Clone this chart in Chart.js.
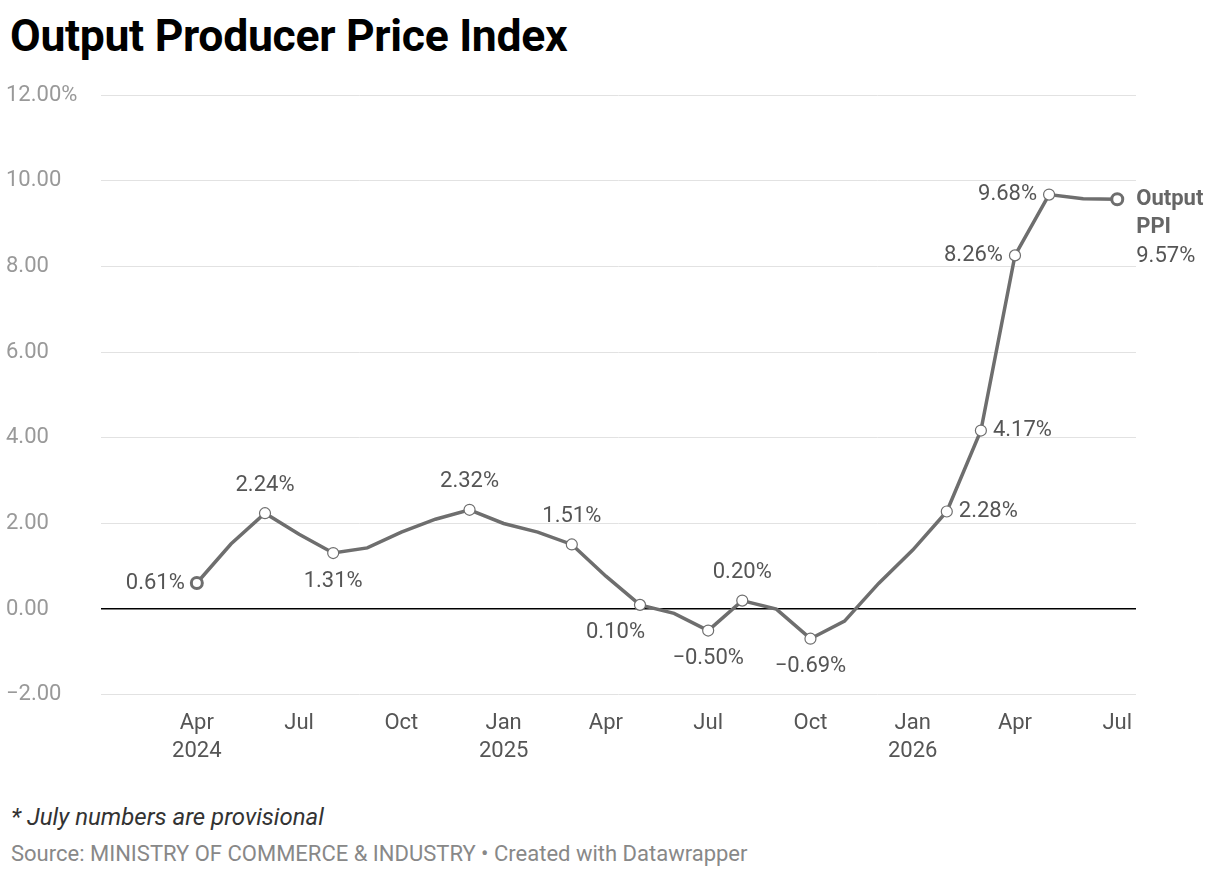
<!DOCTYPE html>
<html>
<head>
<meta charset="utf-8">
<script src="https://cdn.jsdelivr.net/npm/chart.js@4"></script>
<style>
  body { margin: 0; background: #fff; font-family: Roboto, sans-serif; }
  h1 { position: absolute; left: 10px; top: 10px; margin: 0; font-size: 44.5px; font-weight: 700; color: #000; letter-spacing: -0.3px; }
  #wrap { position: absolute; left: 0; top: 70px; width: 1220px; height: 702px; }
  .note { position: absolute; left: 11px; font-size: 24px; color: #333; }
  .src { position: absolute; left: 11px; font-size: 22px; color: #888; }
</style>
</head>
<body>
<h1>Output Producer Price Index</h1>
<div id="wrap"><canvas id="c"></canvas></div>
<div class="note" style="top:803px;font-style:italic">* July numbers are provisional</div>
<div class="src" style="top:841px">Source: MINISTRY OF COMMERCE &amp; INDUSTRY • Created with Datawrapper</div>
<script>
// months from Apr 2024 to Jul 2026
const months = ['Apr 2024','May','Jun','Jul','Aug','Sep','Oct','Nov','Dec','Jan 2025','Feb','Mar',
  'Apr','May','Jun','Jul','Aug','Sep','Oct','Nov','Dec','Jan 2026','Feb','Mar','Apr','May','Jun','Jul'];
const ppi = [0.61,1.52,2.24,1.75,1.31,1.43,1.80,2.10,2.32,2.00,1.80,1.51,
  0.77,0.10,-0.10,-0.50,0.20,0.00,-0.69,-0.28,0.60,1.38,2.28,4.17,8.26,9.68,9.58,9.57];
const tickLabels = [['Apr','2024'],['Jul'],['Oct'],['Jan','2025'],['Apr'],['Jul'],['Oct'],['Jan','2026'],['Apr'],['Jul']];
const yTicks = [-2,0,2,4,6,8,10,12];

// points that get a marker and a value label, with label side
const labelled = [[0,'left'],[2,'above'],[4,'below'],[8,'above'],[11,'aboveRight'],[13,'belowLeft'],
  [15,'below'],[16,'above'],[18,'below'],[22,'right'],[23,'right'],[24,'left'],[25,'left']];

const fmt = v => (v < 0 ? '\u2212' + Math.abs(v).toFixed(2) : v.toFixed(2)) + '%';

const labelsPlugin = {
  id: 'labels',
  afterDatasetsDraw(chart) {
    const ctx = chart.ctx, x = chart.scales.x, y = chart.scales.y;
    ctx.save();
    ctx.font = '22px Roboto';
    labelled.forEach(([i, side]) => {
      const px = x.getPixelForValue(i), py = y.getPixelForValue(ppi[i]);
      ctx.beginPath(); ctx.arc(px, py, 5.5, 0, Math.PI * 2);
      ctx.fillStyle = '#fff'; ctx.fill();
      ctx.strokeStyle = '#6e6e6e'; ctx.lineWidth = (i === 0) ? 3 : 1.2; ctx.stroke();
      ctx.fillStyle = '#555';
      const t = fmt(ppi[i]);
      ctx.textBaseline = 'middle';
      if (side === 'left') { ctx.textAlign = 'right'; ctx.fillText(t, px - 12, py); }
      else if (side === 'right') { ctx.textAlign = 'left'; ctx.fillText(t, px + 12, py); }
      else if (side === 'above' || side === 'aboveRight') { ctx.textAlign = 'center'; ctx.fillText(t, px, py - 28); }
      else if (side === 'below') { ctx.textAlign = 'center'; ctx.fillText(t, px, py + 28); }
      else if (side === 'belowLeft') { ctx.textAlign = 'right'; ctx.fillText(t, px + 5, py + 28); }
    });
    // end point and series label
    const last = ppi.length - 1;
    const ex = x.getPixelForValue(last), ey = y.getPixelForValue(ppi[last]);
    ctx.beginPath(); ctx.arc(ex, ey, 5.5, 0, Math.PI * 2);
    ctx.fillStyle = '#fff'; ctx.fill();
    ctx.strokeStyle = '#6e6e6e'; ctx.lineWidth = 3; ctx.stroke();
    ctx.textAlign = 'left'; ctx.textBaseline = 'middle';
    ctx.fillStyle = '#666'; ctx.font = 'bold 22px Roboto';
    ctx.fillText('Output', ex + 19, ey);
    ctx.fillText('PPI', ex + 19, ey + 28);
    ctx.font = '22px Roboto'; ctx.fillStyle = '#555';
    ctx.fillText(fmt(ppi[last]), ex + 19, ey + 57);
    ctx.restore();
  }
};

new Chart(document.getElementById('c'), {
  type: 'line',
  data: {
    datasets: [{
      data: ppi.map((v, i) => ({ x: i, y: v })),
      borderColor: '#6e6e6e',
      borderWidth: 3.5,
      pointRadius: 0,
      tension: 0
    }]
  },
  options: {
    responsive: true,
    maintainAspectRatio: false,
    animation: false,
    layout: { padding: { top: 12, right: 84, left: 6, bottom: 0 } },
    plugins: { legend: { display: false }, tooltip: { enabled: false } },
    scales: {
      x: {
        type: 'linear', min: -2.8, max: 27.55,
        afterBuildTicks(s) { s.ticks = tickLabels.map((l, k) => ({ value: k * 3 })); },
        ticks: {
          callback: (v) => tickLabels[v / 3],
          color: '#555', font: { family: 'Roboto', size: 22, lineHeight: 1.3 }, maxRotation: 0, padding: 6
        },
        grid: { display: false },
        border: { display: false }
      },
      y: {
        min: -2, max: 12,
        afterBuildTicks(s) { s.ticks = yTicks.map(v => ({ value: v })); },
        ticks: {
          callback: (v) => v === 12 ? '12.00%' : (v < 0 ? '\u2212' + Math.abs(v).toFixed(2) : v.toFixed(2)),
          color: '#999', font: { family: 'Roboto', size: 22 }, crossAlign: 'far', padding: 12
        },
        grid: {
          color: (c) => c.tick && c.tick.value === 0 ? '#000' : '#e2e2e2',
          lineWidth: (c) => c.tick && c.tick.value === 0 ? 1.5 : 1,
          drawTicks: false
        },
        border: { display: false }
      }
    }
  },
  plugins: [labelsPlugin]
});
</script>
</body>
</html>
